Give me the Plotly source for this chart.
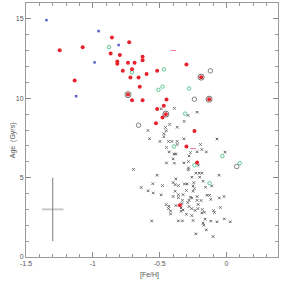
import plotly.graph_objects as go

# ---- data ----
red_feh = [-1.248, -1.076, -0.857, -0.728, -0.867, -0.798, -0.817, -0.817, -0.737, -0.688,
           -0.707, -0.776, -0.719, -0.658, -0.649, -1.136, -0.707, -0.737, -0.628, -0.628,
           -0.598, -0.519, -0.300, -0.190, -0.628, -0.449, -0.130, -0.519, -0.469, -0.479,
           -0.454, -0.528, -0.240, -0.300, -0.220, -0.349]
red_age = [13.03, 13.22, 13.83, 13.52, 12.82, 12.72, 12.31, 12.18, 12.23, 12.23,
           11.82, 11.73, 11.31, 11.31, 10.72, 11.12, 9.88, 10.23, 12.61, 12.40,
           11.52, 11.73, 12.13, 11.33, 9.88, 9.92, 9.94, 9.33, 9.52, 8.79,
           9.00, 8.42, 7.93, 6.96, 5.95, 3.26]

ring_feh = [-0.737, -0.190, -0.130, -0.454]
ring_age = [10.23, 11.33, 9.94, 9.00]

open_feh = [-0.121, -0.240, -0.658, 0.076]
open_age = [11.73, 9.94, 8.30, 5.70]

green_feh = [-0.879, -0.707, -0.469, -0.479, -0.509, -0.280, -0.310, -0.394, -0.240, -0.031, 0.099, -0.127]
green_age = [13.22, 11.63, 11.82, 10.73, 10.53, 10.62, 9.03, 6.96, 5.78, 6.35, 5.91, 4.65]

pink_feh = [-0.398, -0.250]
pink_age = [13.01, 6.83]

blue_feh = [-1.347, -0.957, -0.807, -0.987, -1.125]
blue_age = [14.92, 14.23, 13.35, 12.26, 10.13]

cross_feh = [-0.489, -0.390, -0.287, -0.220, -0.317, -0.425, -0.457, -0.369, -0.451, -0.469,
             -0.469, -0.588, -0.576, -0.319, -0.071, -0.498, -0.434, -0.409, -0.369, -0.369,
             -0.449, -0.429, -0.394, -0.379, -0.270, -0.280, -0.195, -0.185, -0.220, -0.151,
             -0.011, -0.399, -0.449, -0.390, -0.319, -0.285, -0.285, -0.285, -0.210, -0.696,
             -0.519, -0.230, -0.205, -0.185, -0.201, -0.260, -0.056, -0.379, -0.175, -0.399,
             -0.384, -0.295, -0.315, -0.360, -0.245, -0.552, -0.479, -0.638, -0.157, -0.111,
             -0.250, -0.240, -0.250, -0.300, -0.360, -0.325, -0.399, -0.384, -0.586, -0.548,
             -0.489, -0.270, -0.220, -0.190, -0.146, -0.127, -0.334, -0.340, -0.325, -0.280,
             -0.260, -0.215, -0.451, -0.432, -0.434, -0.054, -0.018, -0.260, -0.220, -0.280,
             -0.118, -0.212, -0.046, -0.300, -0.260, -0.185, -0.181, -0.166, -0.097, -0.091,
             -0.419, -0.340, -0.419, -0.560, -0.360, -0.330, -0.250, -0.175, -0.118, -0.071,
             -0.016, 0.028, -0.230, -0.151, -0.101, -0.170, -0.160, -0.379, -0.290, -0.235,
             -0.360, -0.330]
cross_age = [9.34, 9.36, 8.92, 9.12, 8.54, 8.35, 8.16, 8.17, 7.96, 7.77,
             7.58, 7.97, 7.45, 7.45, 7.43, 7.28, 7.28, 7.28, 7.28, 7.09,
             6.90, 6.62, 6.49, 6.49, 6.58, 6.37, 7.09, 6.77, 6.63, 6.62,
             6.60, 6.18, 5.93, 5.91, 5.93, 6.01, 5.61, 5.49, 5.78, 5.52,
             5.15, 5.28, 5.28, 5.28, 5.03, 5.03, 5.15, 4.92, 4.77, 4.69,
             4.56, 4.60, 4.60, 4.50, 4.69, 4.62, 4.50, 4.38, 4.39, 4.48,
             4.48, 4.31, 4.14, 4.19, 3.93, 3.93, 3.81, 4.14, 4.17, 4.03,
             3.92, 3.76, 3.81, 3.56, 3.89, 3.89, 3.37, 3.09, 2.96, 3.18,
             3.05, 3.05, 3.30, 3.20, 3.05, 3.72, 3.81, 3.72, 3.57, 3.57,
             3.63, 3.31, 3.12, 2.69, 2.61, 2.77, 2.99, 2.82, 2.93, 2.80,
             2.90, 2.88, 2.71, 2.27, 2.27, 2.28, 2.30, 2.14, 2.26, 2.22,
             2.40, 2.22, 1.46, 1.71, 1.29, 2.00, 2.38, 3.24, 3.43, 2.93,
             3.74, 3.57]

# typical error bar
err_feh = -1.30
err_age = 3.0
err_dfeh = 0.08
err_dage = 2.0

x_tickvals = [-1.5, -1.0, -0.5, 0.0]
x_ticktext = ["-1.5", "-1", "-0.5", "0"]
y_tickvals = [0, 5, 10, 15]
y_ticktext = ["0", "5", "10", "15"]

FONT = "Liberation Sans, Arial, sans-serif"

fig = go.Figure()

# error cross
fig.add_trace(go.Scatter(x=[err_feh - err_dfeh, err_feh + err_dfeh], y=[err_age, err_age],
                         mode="lines", line=dict(color="#c8c8c8", width=2), hoverinfo="skip"))
fig.add_trace(go.Scatter(x=[err_feh, err_feh], y=[err_age - err_dage, err_age + err_dage],
                         mode="lines", line=dict(color="#7a7a7a", width=1), hoverinfo="skip"))

fig.add_trace(go.Scatter(x=cross_feh, y=cross_age, mode="markers",
                         marker=dict(symbol="x-thin", size=2.5, line=dict(color="#666666", width=1))))
fig.add_trace(go.Scatter(x=open_feh, y=open_age, mode="markers",
                         marker=dict(symbol="circle-open", size=4.5, color="#808080", line=dict(width=1))))
fig.add_trace(go.Scatter(x=ring_feh, y=ring_age, mode="markers",
                         marker=dict(symbol="circle-open", size=6, color="#707070", line=dict(width=1))))
fig.add_trace(go.Scatter(x=green_feh, y=green_age, mode="markers",
                         marker=dict(symbol="circle-open", size=3.5, color="#5cc994", line=dict(width=1))))
fig.add_trace(go.Scatter(x=blue_feh, y=blue_age, mode="markers",
                         marker=dict(symbol="square", size=2.5, color="#5560c4", line=dict(width=0))))
fig.add_trace(go.Scatter(x=red_feh, y=red_age, mode="markers",
                         marker=dict(symbol="circle", size=4, color="#e8222c", line=dict(width=0))))
fig.add_trace(go.Scatter(x=pink_feh, y=pink_age, mode="markers",
                         marker=dict(symbol="line-ew", size=4, color="#f07aa0",
                                     line=dict(color="#f07aa0", width=1))))

axis_common = dict(showgrid=False, zeroline=False, showline=True, linecolor="#9a9a9a", linewidth=1,
                   mirror="ticks", ticks="inside", tickcolor="#8a8a8a", ticklen=5, tickwidth=1,
                   automargin=False,
                   tickfont=dict(family=FONT, size=7, color="#555555"))

fig.update_xaxes(range=[-1.5, 0.385], tickmode="array", tickvals=x_tickvals, ticktext=x_ticktext,
                 minor=dict(dtick=0.1, tick0=0, ticks="inside", ticklen=3, tickcolor="#9a9a9a", showgrid=False),
                 **axis_common)
fig.update_yaxes(range=[0, 16], tickmode="array", tickvals=y_tickvals, ticktext=y_ticktext,
                 minor=dict(dtick=1, tick0=0, ticks="inside", ticklen=3, tickcolor="#9a9a9a", showgrid=False),
                 **axis_common)

fig.add_annotation(text="Age  (Gyrs)", xref="paper", yref="paper", x=-0.075, y=0.46,
                   textangle=-90, showarrow=False, font=dict(family=FONT, size=7, color="#555555"))
fig.add_annotation(text="[Fe/H]", xref="paper", yref="paper", x=0.49, y=-0.072,
                   yanchor="middle", showarrow=False, font=dict(family=FONT, size=7, color="#555555"))

fig.update_layout(width=281, height=283, margin=dict(l=26, r=3, t=3, b=26),
                  plot_bgcolor="white", paper_bgcolor="white", showlegend=False,
                  hovermode=False)

fig.write_html("out.html", config={"displayModeBar": False, "staticPlot": True},
               post_script="document.body.style.margin='0';")
